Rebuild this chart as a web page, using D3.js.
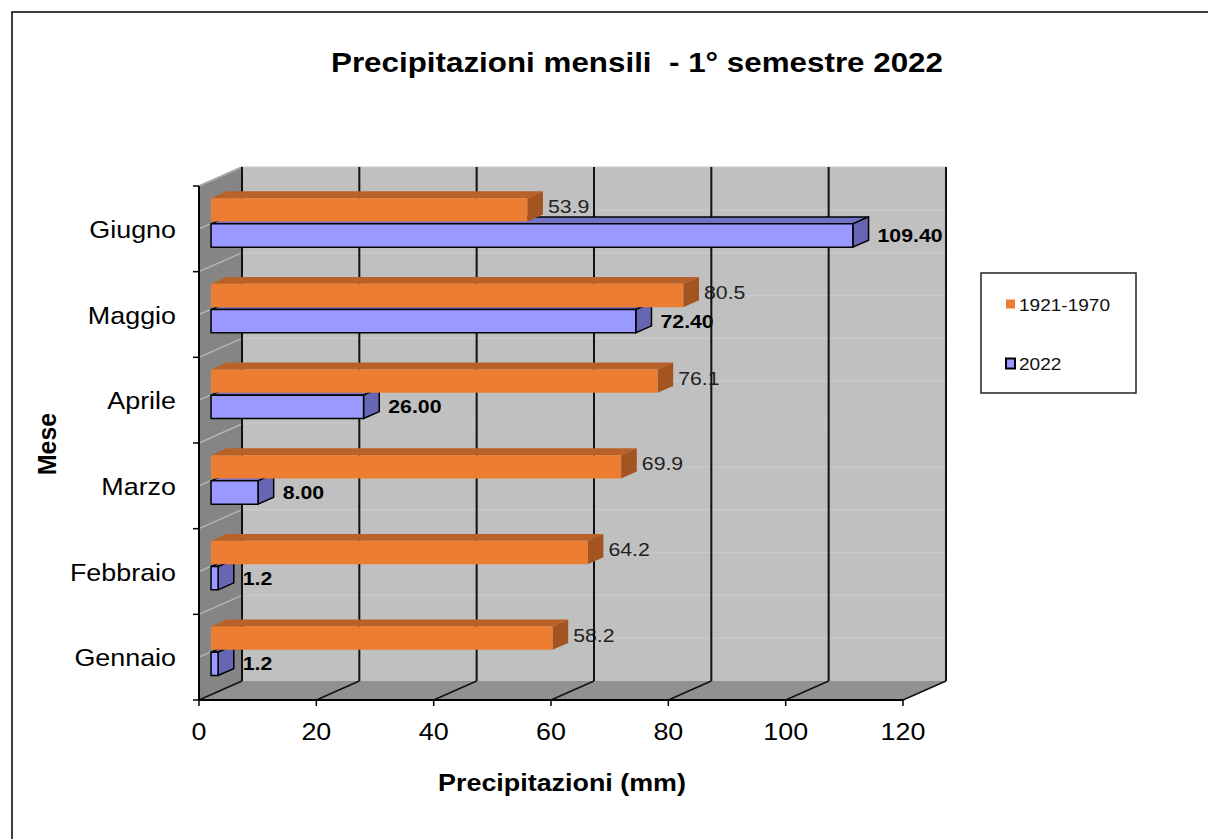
<!DOCTYPE html>
<html>
<head>
<meta charset="utf-8">
<script src="https://cdn.jsdelivr.net/npm/d3@7"></script>
<style>
  html, body { margin: 0; padding: 0; background: #fff; }
  svg { display: block; }
  text { font-family: "Liberation Sans", Arial, sans-serif; white-space: pre; }
</style>
</head>
<body>
<svg id="chart" width="1208" height="839"></svg>
<script>
// Monthly precipitation, first half of 2022 vs the 1921-1970 average
const months = ["Gennaio", "Febbraio", "Marzo", "Aprile", "Maggio", "Giugno"];
const seriesNames = ["1921-1970", "2022"];
const normal19211970 = [58.2, 64.2, 69.9, 76.1, 80.5, 53.9];
const values2022 = [1.2, 1.2, 8.0, 26.0, 72.4, 109.4];
const labels19211970 = ["58.2", "64.2", "69.9", "76.1", "80.5", "53.9"];
const labels2022 = ["1.2", "1.2", "8.00", "26.00", "72.40", "109.40"];
const xTicks = [0, 20, 40, 60, 80, 100, 120];

const svg = d3.select("#chart");
const SX = 1.12; // horizontal stretch applied to all text

// 3-D projection: depth d in [0,1] shifts right and up
const DX = 43, DY = -19;
const P = (x, y, d) => [x + DX * d, y + DY * d];
const D0 = 0.28, D1 = 0.645; // bar front / back depth

const x = d3.scaleLinear().domain([0, 120]).range([199, 903]);
const y = d3.scaleBand().domain(months).range([700, 186]);
const ySeries = d3.scaleBand().domain(seriesNames).range([17.5, 66.5]).paddingInner(0.09);

const colors = {
  "1921-1970": { front: "#ED7D31", top: "#B8622A", side: "#A35420", stroke: "none" },
  "2022": { front: "#9999FF", top: "#7373C6", side: "#6666B3", stroke: "#000" }
};

function txt(g, str, tx, ty, opts) {
  return g.append("text")
    .attr("transform", `translate(${tx},${ty}) scale(${SX},1)`)
    .attr("text-anchor", opts.anchor || "start")
    .attr("font-size", opts.size)
    .attr("font-weight", opts.weight || "normal")
    .attr("fill", opts.fill || "#000")
    .text(str);
}
const poly = pts => pts.map(p => p.join(",")).join(" ");

// Outer frame
svg.append("rect").attr("x", 12).attr("y", 12).attr("width", 1260).attr("height", 900)
  .attr("fill", "none").attr("stroke", "#000").attr("stroke-width", 1.5);

// Title
txt(svg, "Precipitazioni mensili  - 1° semestre 2022", 637, 72, { anchor: "middle", size: 28, weight: "bold" });

const walls = svg.append("g");
const [x0, x1] = x.range();
const yTop = 186, yBot = 700;

// Back wall
walls.append("polygon").attr("points", poly([P(x0, yTop, 1), P(x1, yTop, 1), P(x1, yBot, 1), P(x0, yBot, 1)]))
  .attr("fill", "#C0C0C0");
// Left wall
walls.append("polygon").attr("points", poly([P(x0, yTop, 0), P(x0, yTop, 1), P(x0, yBot, 1), P(x0, yBot, 0)]))
  .attr("fill", "#858585");
// Floor
walls.append("polygon").attr("points", poly([P(x0, yBot, 0), P(x1, yBot, 0), P(x1, yBot, 1), P(x0, yBot, 1)]))
  .attr("fill", "#919191");

// Faint category lines on the walls (boundaries and centres)
const catLines = [];
months.forEach(m => { catLines.push(y(m)); catLines.push(y(m) + y.bandwidth() / 2); });
catLines.forEach(v => {
  if (Math.abs(v - yBot) < 1) return;
  const a = P(x0, v, 0), b = P(x0, v, 1), c = P(x1, v, 1);
  walls.append("line").attr("x1", a[0]).attr("y1", a[1]).attr("x2", b[0]).attr("y2", b[1])
    .attr("stroke", "#B4B4B4").attr("stroke-width", 1.5);
  walls.append("line").attr("x1", b[0]).attr("y1", b[1]).attr("x2", c[0]).attr("y2", c[1])
    .attr("stroke", "#CACACA").attr("stroke-width", 1.2);
});
// Light top edge of the side wall
{
  const a = P(x0, yTop, 0), b = P(x0, yTop, 1);
  walls.append("line").attr("x1", a[0]).attr("y1", a[1]).attr("x2", b[0]).attr("y2", b[1])
    .attr("stroke", "#A8A8A8").attr("stroke-width", 1.5);
}

// Value labels (drawn beneath the gridlines)
const labelG = svg.append("g");
months.forEach((m, i) => {
  const endO = P(x(normal19211970[i]), 0, D1)[0];
  const topO = y(m) + ySeries("1921-1970") + DY * D0;
  txt(labelG, labels19211970[i], endO + 5, topO + 15, { size: 19, fill: "#222" });
  const endB = P(x(values2022[i]), 0, D1)[0];
  const topB = y(m) + ySeries("2022") + DY * D0;
  txt(labelG, labels2022[i], endB + 9, topB + 18, { size: 19, weight: "bold" });
});

// Value gridlines on back wall and floor
const grid = svg.append("g");
xTicks.forEach(v => {
  const f = P(x(v), yBot, 0), b = P(x(v), yBot, 1), t = P(x(v), yTop, 1);
  grid.append("line").attr("x1", f[0]).attr("y1", f[1]).attr("x2", b[0]).attr("y2", b[1])
    .attr("stroke", "#111").attr("stroke-width", 1.5);
  grid.append("line").attr("x1", b[0]).attr("y1", b[1]).attr("x2", t[0]).attr("y2", t[1])
    .attr("stroke", "#111").attr("stroke-width", 2);
});

// Bars as prisms: 2022 first so the 1921-1970 front face overlaps its top
const bars = svg.append("g");
function prism(m, s, v) {
  const c = colors[s];
  const xa = x(0), xb = x(v);
  const yt = y(m) + ySeries(s), yb = yt + ySeries.bandwidth();
  const g = bars.append("g").attr("stroke", c.stroke).attr("stroke-width", 1.5).attr("stroke-linejoin", "round");
  g.append("polygon").attr("points", poly([P(xa, yt, D0), P(xb, yt, D0), P(xb, yt, D1), P(xa, yt, D1)])).attr("fill", c.top);
  g.append("polygon").attr("points", poly([P(xb, yt, D0), P(xb, yt, D1), P(xb, yb, D1), P(xb, yb, D0)])).attr("fill", c.side);
  g.append("polygon").attr("points", poly([P(xa, yt, D0), P(xb, yt, D0), P(xb, yb, D0), P(xa, yb, D0)])).attr("fill", c.front);
}
months.slice().reverse().forEach(m => {
  const i = months.indexOf(m);
  prism(m, "2022", values2022[i]);
  prism(m, "1921-1970", normal19211970[i]);
});

// Axes
const axisG = svg.append("g");
axisG.append("line").attr("x1", x0).attr("y1", yBot).attr("x2", x1).attr("y2", yBot)
  .attr("stroke", "#000").attr("stroke-width", 2);
axisG.append("line").attr("x1", x0).attr("y1", yTop).attr("x2", x0).attr("y2", yBot)
  .attr("stroke", "#000").attr("stroke-width", 2);
xTicks.forEach(v => {
  axisG.append("line").attr("x1", x(v)).attr("y1", yBot).attr("x2", x(v)).attr("y2", yBot + 6)
    .attr("stroke", "#000").attr("stroke-width", 1.5);
  txt(axisG, String(v), x(v), 740, { anchor: "middle", size: 24 });
});
const bounds = months.map(m => y(m)).concat([yBot]);
bounds.forEach(v => {
  axisG.append("line").attr("x1", x0 - 6).attr("y1", v).attr("x2", x0).attr("y2", v)
    .attr("stroke", "#000").attr("stroke-width", 1.5);
});
months.forEach(m => {
  txt(axisG, m, 176, y(m) + y.bandwidth() / 2 + 9, { anchor: "end", size: 24 });
});

// Axis titles
txt(svg, "Precipitazioni (mm)", 562, 791, { anchor: "middle", size: 24, weight: "bold" });
svg.append("text")
  .attr("transform", "translate(56,444) rotate(-90)")
  .attr("text-anchor", "middle").attr("font-size", 25).attr("font-weight", "bold")
  .text("Mese");

// Legend
const lg = svg.append("g");
lg.append("rect").attr("x", 981).attr("y", 273).attr("width", 155).attr("height", 120)
  .attr("fill", "#fff").attr("stroke", "#222").attr("stroke-width", 1.5);
const legendY = d3.scalePoint().domain(seriesNames).range([304, 363]);
seriesNames.forEach(s => {
  const cy = legendY(s);
  if (s === "2022") {
    lg.append("rect").attr("x", 1006).attr("y", cy - 4.5).attr("width", 9).attr("height", 10)
      .attr("fill", colors[s].front).attr("stroke", "#000").attr("stroke-width", 2);
  } else {
    lg.append("rect").attr("x", 1006).attr("y", cy - 4.5).attr("width", 9).attr("height", 9)
      .attr("fill", colors[s].front);
  }
  txt(lg, s, 1019, cy + 6.5, { size: 17, fill: "#111" });
});
</script>
</body>
</html>
